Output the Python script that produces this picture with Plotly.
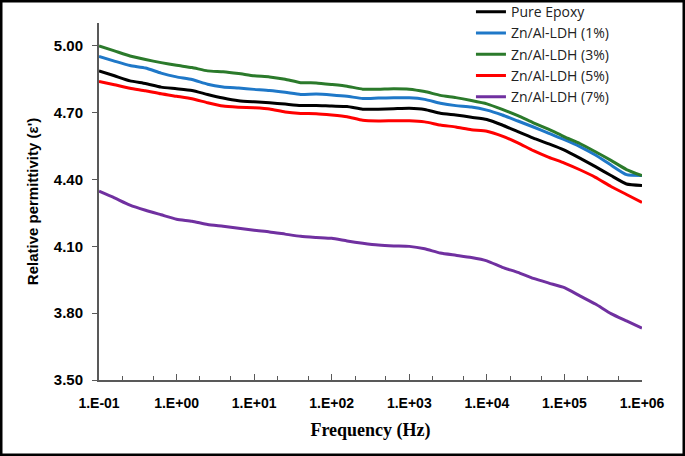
import plotly.graph_objects as go

freq = [0.1, 0.158, 0.251, 0.398, 0.631, 1.0, 1.58, 2.51, 3.98, 6.31,
        10.0, 15.8, 25.1, 39.8, 63.1, 100.0, 158.0, 251.0, 398.0, 631.0,
        1000.0, 1580.0, 2510.0, 3980.0, 6310.0, 10000.0, 15800.0, 25100.0, 39800.0, 63100.0,
        100000.0, 158000.0, 251000.0, 398000.0, 631000.0, 1000000.0]

pure_epoxy = [4.888, 4.866, 4.843, 4.831, 4.815, 4.808, 4.800, 4.782, 4.766, 4.754,
              4.749, 4.745, 4.739, 4.733, 4.733, 4.730, 4.728, 4.716, 4.716, 4.718,
              4.720, 4.715, 4.698, 4.690, 4.680, 4.670, 4.645, 4.615, 4.586, 4.560,
              4.532, 4.496, 4.458, 4.418, 4.380, 4.373]

ldh_1 = [4.953, 4.932, 4.912, 4.901, 4.878, 4.861, 4.849, 4.828, 4.816, 4.811,
         4.805, 4.800, 4.792, 4.782, 4.784, 4.780, 4.774, 4.764, 4.766, 4.767,
         4.767, 4.760, 4.743, 4.732, 4.726, 4.712, 4.690, 4.663, 4.636, 4.607,
         4.579, 4.548, 4.510, 4.465, 4.422, 4.418]

ldh_3 = [5.000, 4.978, 4.955, 4.939, 4.925, 4.913, 4.903, 4.888, 4.884, 4.876,
         4.866, 4.861, 4.850, 4.835, 4.834, 4.827, 4.819, 4.806, 4.806, 4.808,
         4.806, 4.795, 4.778, 4.768, 4.755, 4.740, 4.715, 4.687, 4.655, 4.625,
         4.592, 4.562, 4.525, 4.486, 4.445, 4.418]

ldh_5 = [4.841, 4.826, 4.810, 4.799, 4.785, 4.774, 4.763, 4.745, 4.730, 4.725,
         4.722, 4.717, 4.703, 4.697, 4.696, 4.690, 4.682, 4.666, 4.663, 4.664,
         4.664, 4.659, 4.645, 4.636, 4.624, 4.617, 4.595, 4.565, 4.530, 4.500,
         4.474, 4.444, 4.410, 4.369, 4.333, 4.297]

ldh_7 = [4.348, 4.318, 4.285, 4.262, 4.242, 4.222, 4.213, 4.198, 4.190, 4.181,
         4.172, 4.165, 4.155, 4.145, 4.140, 4.136, 4.124, 4.114, 4.106, 4.102,
         4.100, 4.089, 4.070, 4.060, 4.050, 4.035, 4.006, 3.983, 3.956, 3.935,
         3.915, 3.878, 3.841, 3.798, 3.765, 3.733]

series_names = ["Pure Epoxy", "Zn/Al-LDH (1%)", "Zn/Al-LDH (3%)", "Zn/Al-LDH (5%)", "Zn/Al-LDH (7%)"]
series_values = [pure_epoxy, ldh_1, ldh_3, ldh_5, ldh_7]
colors = ["#000000", "#1F78C8", "#2B7A2B", "#FF0000", "#7030A0"]

x_tickvals = [0.1, 1, 10, 100, 1000, 10000, 100000, 1000000]
x_ticktext = ["1.E-01", "1.E+00", "1.E+01", "1.E+02", "1.E+03", "1.E+04", "1.E+05", "1.E+06"]
y_tickvals = [3.5, 3.8, 4.1, 4.4, 4.7, 5.0]
y_ticktext = ["3.50", "3.80", "4.10", "4.40", "4.70", "5.00"]

fig = go.Figure()
for name, vals, col in zip(series_names, series_values, colors):
    fig.add_trace(go.Scatter(x=freq, y=vals, name=name, mode="lines",
                             line=dict(color=col, width=3, shape="spline", smoothing=0.5)))

axis_col = "#595959"
fig.update_layout(
    width=685, height=456,
    margin=dict(l=99, r=43, t=23, b=76, autoexpand=False),
    paper_bgcolor="white", plot_bgcolor="white",
    showlegend=True,
    legend=dict(x=0.685, y=1.075, xanchor="left", yanchor="top",
                font=dict(family="Open Sans, Lato, sans-serif", size=14, color="#222222"),
                bgcolor="rgba(0,0,0,0)", tracegroupgap=0, itemwidth=30),
    xaxis=dict(type="log", range=[-1, 6], tickvals=x_tickvals, ticktext=x_ticktext,
               showgrid=False, zeroline=False, showline=True, linecolor=axis_col, linewidth=2,
               ticks="inside", ticklen=6, tickcolor=axis_col, tickwidth=1,
               ticklabelstandoff=9,
               minor=dict(ticks="inside", ticklen=4, tickcolor=axis_col, showgrid=False),
               tickfont=dict(family="Liberation Sans, Arial, sans-serif", size=14, color="#000000",
                             weight="bold"),
               title=dict(text="Frequency (Hz)", standoff=14,
                          font=dict(family="Liberation Serif, Times New Roman, serif", size=18,
                                    color="#000000", weight="bold"))),
    yaxis=dict(range=[3.5, 5.103], tickvals=y_tickvals, ticktext=y_ticktext,
               showgrid=False, zeroline=False, showline=True, linecolor=axis_col, linewidth=2,
               ticks="outside", ticklen=5, tickcolor=axis_col, tickwidth=1,
               ticklabelstandoff=6,
               tickfont=dict(family="Liberation Sans, Arial, sans-serif", size=15, color="#000000",
                             weight="bold"),
               title=dict(text="Relative permittivity (ε')", standoff=12,
                          font=dict(family="Liberation Sans, Arial, sans-serif", size=15,
                                    color="#000000", weight="bold"))),
    shapes=[dict(type="rect", xref="paper", yref="paper",
                 x0=(1 - 99) / 543, x1=(684 - 99) / 543,
                 y0=(380 - 455) / 357, y1=(380 - 1) / 357,
                 line=dict(color="#000000", width=3), fillcolor="rgba(0,0,0,0)", layer="above")],
)

fig.write_html("out.html", config={"displayModeBar": False},
               post_script="document.body.style.margin='0';document.body.style.padding='0';")
